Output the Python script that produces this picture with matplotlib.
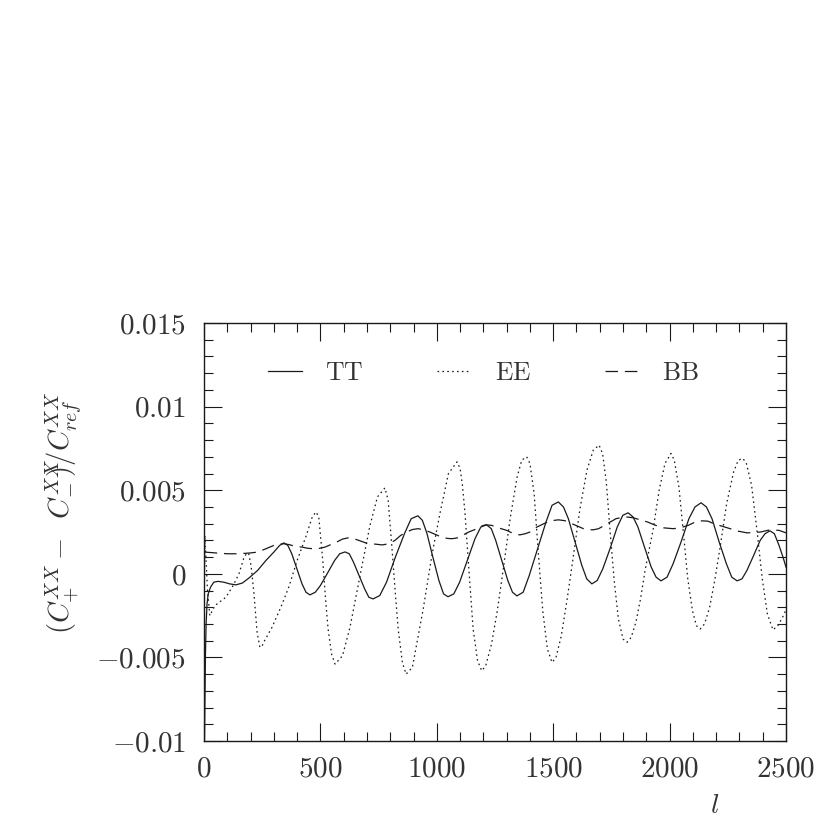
"""Fractional difference (C+ - C-)/Cref for TT, EE, BB versus multipole l."""
import matplotlib
matplotlib.use("Agg")
import matplotlib.pyplot as plt
from matplotlib.ticker import MultipleLocator, FixedLocator

# values
tt_l = [2, 4, 6, 9, 13, 18, 28, 42, 60, 85, 110, 137, 165, 193, 230, 266, 300,
        325, 343, 360, 377, 399, 421, 438, 455, 478, 500, 530, 561, 583, 606,
        624, 642, 666, 690, 708, 726, 755, 784, 822, 861, 890, 919, 938, 958,
        983, 1009, 1029, 1048, 1073, 1098, 1131, 1164, 1189, 1214, 1234, 1253,
        1279, 1305, 1325, 1344, 1371, 1397, 1433, 1469, 1495, 1522, 1544, 1565,
        1594, 1623, 1644, 1666, 1689, 1713, 1744, 1775, 1799, 1822, 1843, 1864,
        1892, 1921, 1942, 1963, 1989, 2015, 2049, 2083, 2109, 2135, 2158, 2182,
        2213, 2244, 2267, 2290, 2311, 2332, 2361, 2389, 2410, 2431, 2450, 2470,
        2487, 2500]
tt_v = [-0.0100, -0.0075, -0.0050, -0.0030, -0.0018, -0.0012, -0.0008, -0.0005,
        -0.00045, -0.0005, -0.0006, -0.00066, -0.00055, -0.00025, 0.0002, 0.0008,
        0.0013, 0.0017, 0.00185, 0.0017, 0.0012, 0.0003, -0.0006, -0.0011,
        -0.00126, -0.0011, -0.0007, 0.00003, 0.0008, 0.0012, 0.00131,
        0.0012, 0.0007, -0.0001, -0.0009, -0.0014, -0.0015, -0.0013, -0.0005,
        0.0010, 0.0024, 0.0033, 0.00347, 0.0032, 0.0024,
        0.0010, -0.0004, -0.0012, -0.00137, -0.0012, -0.0005, 0.0008, 0.0021,
        0.0028, 0.00293, 0.0027, 0.0020,
        0.0008, -0.0004, -0.0011, -0.00132, -0.0011, -0.0001, 0.0015, 0.0031,
        0.0041, 0.0043, 0.0040, 0.0033,
        0.0019, 0.0005, -0.0003, -0.0006, -0.0004, 0.0003, 0.0015, 0.0028,
        0.0035, 0.00365, 0.0034, 0.0028,
        0.0016, 0.0004, -0.0002, -0.00042, -0.0002, 0.0006, 0.0019, 0.0033,
        0.0040, 0.00425, 0.0040, 0.0033,
        0.0019, 0.0006, -0.0002, -0.00042, -0.0003, 0.0002, 0.0011, 0.0020,
        0.0024, 0.00257, 0.0024, 0.0017, 0.0010, 0.0004]

ee_l = [2, 4, 8, 15, 25, 47, 94, 125, 150, 170, 184, 192, 202, 214, 228, 240,
        250, 260, 292, 330, 364, 400, 437, 465, 481, 493, 511, 522, 533, 548, 563,
        595, 627, 670, 713, 745, 777, 791, 807, 822, 834, 852, 868, 895, 941, 980,
        1014, 1050, 1087, 1100, 1110, 1121, 1138, 1156, 1175, 1193, 1210, 1235,
        1260, 1285, 1315, 1345, 1365, 1386, 1400, 1418, 1436, 1455, 1475, 1495,
        1512, 1535, 1560, 1586, 1615, 1645, 1672, 1697, 1712, 1728, 1744, 1762,
        1780, 1800, 1817, 1835, 1855, 1875, 1895, 1929, 1955, 1980, 2006, 2020,
        2040, 2058, 2078, 2098, 2115, 2131, 2150, 2172, 2195, 2217, 2245, 2275,
        2295, 2315, 2330, 2352, 2375, 2398, 2420, 2444, 2465, 2485, 2500]
ee_v = [0.0000, 0.0023, 0.0010, -0.0010, -0.0025, -0.0019, -0.0014, -0.0007,
        0.0000, 0.0009, 0.00125, 0.0012, 0.0005, -0.0011, -0.0035, -0.0044,
        -0.0043, -0.0040, -0.0032, -0.0020, -0.0008, 0.0008, 0.0022, 0.0034,
        0.0037, 0.0034, 0.00065, -0.0015, -0.0033, -0.0048, -0.0054,
        -0.0049, -0.0032, -0.00013, 0.0029, 0.0046, 0.00514, 0.0044, 0.0016,
        -0.0012, -0.0033, -0.0053, -0.0060, -0.0056, -0.00215, 0.0012,
        0.00365, 0.0060, 0.0067, 0.0063, 0.0053, 0.00365, 0.0002, -0.0033,
        -0.0052, -0.0058, -0.0055, -0.0042,
        -0.0022, 0.00024, 0.0033, 0.0058, 0.0068, 0.0070, 0.0066, 0.0048,
        0.00126, -0.0022, -0.0045, -0.0053,
        -0.0050, -0.0037, -0.0015, 0.0010, 0.0039, 0.0062, 0.0074, 0.0077,
        0.0072, 0.0055, 0.0026, -0.0004,
        -0.0027, -0.0039, -0.0041, -0.0038, -0.0029, -0.0015, 0.00024, 0.00263,
        0.0050, 0.0066, 0.0072, 0.0068,
        0.0052, 0.00263, -0.0003, -0.0022, -0.0031, -0.0033, -0.0030, -0.0020,
        -0.0003, 0.0016, 0.0042, 0.0061,
        0.0068, 0.0069, 0.0066, 0.0053, 0.00263, -0.0003, -0.0024, -0.00335,
        -0.0031, -0.0026, -0.00215]

bb_l = [3, 50, 100, 150, 200, 230, 266, 300, 325, 343, 365, 390, 420, 445, 470,
        495, 520, 545, 570, 595, 619, 643, 665, 695, 720, 765, 795, 820, 845, 870,
        895, 919, 945, 970, 995, 1020, 1045, 1065, 1088, 1110, 1137, 1164, 1185,
        1210, 1235, 1265, 1300, 1330, 1357, 1380, 1400, 1430, 1460, 1490, 1522,
        1550, 1580, 1605, 1630, 1650, 1671, 1695, 1720, 1745, 1770, 1795, 1817,
        1845, 1873, 1905, 1940, 1975, 2015, 2045, 2080, 2110, 2139, 2165, 2190,
        2225, 2260, 2295, 2333, 2360, 2390, 2431, 2470, 2500]
bb_v = [0.0013, 0.00125, 0.0012, 0.0012, 0.00125, 0.0013, 0.0015, 0.0017,
        0.00178, 0.0018, 0.00175, 0.00165, 0.0016, 0.00153, 0.0015,
        0.00152, 0.0016, 0.00175, 0.0019, 0.00208, 0.00215, 0.0021, 0.0020,
        0.00185, 0.0018, 0.00173, 0.0018, 0.0020, 0.0023, 0.0025,
        0.00265, 0.0027, 0.00263, 0.0025, 0.00235, 0.0022, 0.00212, 0.0021,
        0.00215, 0.0023, 0.0025, 0.00265, 0.00283,
        0.00293, 0.0029, 0.00275, 0.0026, 0.0024, 0.00233, 0.0024, 0.0025,
        0.0028, 0.0030, 0.00317, 0.00323,
        0.00318, 0.0030, 0.00285, 0.0027, 0.00265, 0.00263, 0.0027, 0.0029,
        0.0031, 0.0033, 0.00337, 0.0034,
        0.00335, 0.00323, 0.0031, 0.0029, 0.00275, 0.0027, 0.00275, 0.0029,
        0.0031, 0.00317, 0.00315, 0.0030,
        0.00285, 0.0027, 0.00255, 0.00245, 0.00247, 0.0025, 0.00263, 0.0026,
        0.00245]

y_ticks = [-0.01, -0.005, 0, 0.005, 0.01, 0.015]
y_labels = [r"$-0.01$", r"$-0.005$", r"$0$", r"$0.005$", r"$0.01$", r"$0.015$"]
x_ticks = [0, 500, 1000, 1500, 2000, 2500]

INK = "#1a1a1a"
TXT = "#333333"
plt.rcParams["mathtext.fontset"] = "cm"
plt.rcParams["font.family"] = "serif"
plt.rcParams["font.serif"] = ["cmr10", "DejaVu Serif"]
plt.rcParams["axes.unicode_minus"] = False

fig = plt.figure(figsize=(8.3, 8.3), dpi=100)
ax = fig.add_axes([0.2458, 0.1072, 0.7012, 0.5036])

lw = 0.9
ax.plot(tt_l, tt_v, color=INK, lw=lw, label=r"$\mathrm{TT}$")
ax.plot(ee_l, ee_v, color=INK, lw=lw, dashes=(1.3, 2.6), label=r"$\mathrm{EE}$")
ax.plot(bb_l, bb_v, color=INK, lw=lw, dashes=(10, 5.5), label=r"$\mathrm{BB}$")

ax.set_xlim(0, 2500)
ax.set_ylim(-0.01, 0.015)
ax.xaxis.set_major_locator(FixedLocator(x_ticks))
ax.xaxis.set_minor_locator(MultipleLocator(100))
ax.yaxis.set_major_locator(FixedLocator(y_ticks))
ax.yaxis.set_minor_locator(MultipleLocator(0.001))
ax.set_yticklabels(y_labels)
ax.set_xticklabels([rf"${t}$" for t in x_ticks])

ax.tick_params(which="both", direction="in", top=True, right=True,
               color=INK, width=0.8, labelsize=21, labelcolor=TXT)
ax.tick_params(which="major", length=13)
ax.tick_params(which="minor", length=6.5)
ax.tick_params(axis="x", pad=11)
ax.tick_params(axis="y", pad=13)
for s in ax.spines.values():
    s.set_linewidth(1.0)
    s.set_color(INK)

ax.set_ylabel(r"$(C^{XX}_{+}-\;\;C^{XX}_{-}\!\!\!\!)/C^{XX}_{ref}$",
              fontsize=20.5, color=TXT, va="center")
ax.yaxis.set_label_coords(-0.2405, 0.545)
ax.set_xlabel(r"$l$", fontsize=20, color=TXT, va="center")
ax.xaxis.set_label_coords(0.878, -0.155)

ax.legend(loc="center", bbox_to_anchor=(0.48, 0.88), ncol=3, frameon=False,
          fontsize=18.5, handlelength=1.32, handletextpad=0.9,
          columnspacing=2.9, borderpad=0, labelcolor=TXT)

fig.savefig("out.png", dpi=100)
